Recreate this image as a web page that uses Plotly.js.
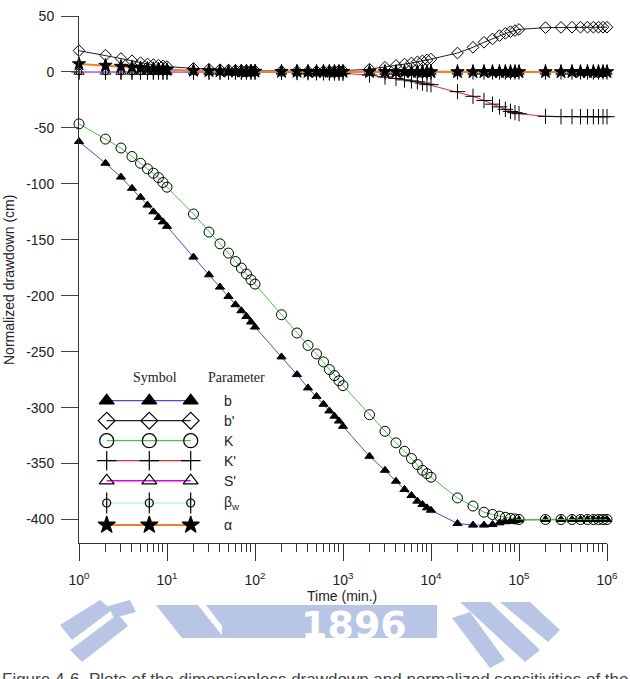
<!DOCTYPE html>
<html>
<head>
<meta charset="utf-8">
<script src="https://cdn.plot.ly/plotly-3.0.1.min.js"></script>
<style>
html,body{margin:0;padding:0;background:#fff;}
#chart{width:630px;height:679px;}
</style>
</head>
<body>
<div id="chart"></div>
<script>
// ---------- DATA ----------
const timeMin = [
  1,2,3,4,5,6,7,8,9,
  10,20,30,40,50,60,70,80,90,
  100,200,300,400,500,600,700,800,900,
  1000,2000,3000,4000,5000,6000,7000,8000,9000,
  10000,20000,30000,40000,50000,60000,70000,80000,90000,
  100000,200000,300000,400000,500000,600000,700000,800000,900000,
  1000000
];
const sB = [
  -62.2,-81.6,-94,-104,-112,-119,-125,-130,-134,
  -138,-165.5,-181.3,-192.3,-200.6,-208,-213.4,-218.5,-223.5,
  -228,-254.7,-270.5,-282.4,-290,-297,-303,-307.7,-312,
  -316.7,-343.5,-356,-365.8,-373.2,-378.6,-383.6,-386.6,-389.6,
  -391.7,-403.6,-405,-405,-404.5,-403,-402,-401.5,-401,
  -400.5,-400,-400,-400,-400,-400,-400,-400,-400,
  -400
];
const sBp = [
  19,15,12,10,8.3,7.1,6.5,6,5.4,
  4.8,3.2,2.4,2.0,1.7,1.5,1.3,1.2,1.1,
  1.0,0.7,0.6,0.6,0.6,0.7,0.7,0.8,0.9,
  1.1,2.5,4.2,5.8,7,8,9,9.9,10.7,
  11.5,16.9,22,26.5,29.5,32.4,34.5,36,37,
  38,39.6,39.8,40,40,40,40,40,40,
  40
];
const sK = [
  -46.4,-60,-68,-75.6,-81.6,-86.6,-90.5,-94.4,-98.8,
  -103,-127,-143.1,-153.6,-161.9,-169.4,-175.3,-180.6,-185.7,
  -189.6,-217,-233.3,-244.4,-252,-259.2,-266,-271.4,-276,
  -280.4,-306.3,-321.2,-331.5,-339,-345.5,-350.9,-356,-359,
  -362.2,-380.7,-388,-393.5,-395.5,-397,-398,-399,-399.5,
  -400,-400,-400,-400,-400,-400,-400,-400,-400,
  -400
];
const sKp = [
  0,0,0,0,0,0,0,0,0,
  0,0,0,0,0,0,0,0,0,
  -0.1,-0.3,-0.5,-0.6,-0.7,-0.8,-0.9,-1.0,-1.1,
  -1.3,-2.8,-4.5,-5.8,-7.1,-8,-8.8,-10,-11,
  -11.4,-17.6,-21.8,-25.5,-28.8,-31.2,-33.4,-35.3,-36.4,
  -37.3,-39.7,-40,-40,-40,-40,-40,-40,-40,
  -40
];
const sSp = [
  0,0,0,0,0,0,0,0,0,
  0,0,0,0,0,0,0,0,0,
  0,0,0,0,0,0,0,0,0,
  0,0,0,0,0,0,0,0,0,
  0,0,0,0,0,0,0,0,0,
  0,0,0,0,0,0,0,0,0,
  0
];
const sBw = [
  0,0,0,0,0,0,0,0,0,
  0,0,0,0,0,0,0,0,0,
  0,0,0,0,0,0,0,0,0,
  0,0,0,0,0,0,0,0,0,
  0,0,0,0,0,0,0,0,0,
  0,0,0,0,0,0,0,0,0,
  0
];
const sAlpha = [
  7.1,5.8,4.9,4.2,3.6,3.1,2.8,2.5,2.2,
  2.0,1.2,0.9,0.7,0.6,0.5,0.5,0.4,0.4,
  0.4,0.3,0.3,0.2,0.2,0.2,0.2,0.2,0.2,
  0.2,0.1,0.1,0.1,0.1,0.1,0.1,0.1,0.1,
  0,0,0,0,0,0,0,0,0,
  0,0,0,0,0,0,0,0,0,
  0
];
const xTickVals = [1,10,100,1000,10000,100000,1000000];
const xTickText = ['10<sup>0</sup>','10<sup>1</sup>','10<sup>2</sup>','10<sup>3</sup>','10<sup>4</sup>','10<sup>5</sup>','10<sup>6</sup>'];
const yTickVals = [50,0,-50,-100,-150,-200,-250,-300,-350,-400];
const yTickText = ['50','0','-50','-100','-150','-200','-250','-300','-350','-400'];
const paramNames = ['b',"b'",'K',"K'","S'",'β<sub>w</sub>','α'];

// ---------- STYLE ----------
const W = 630, H = 679;
const M = {l:79, r:23, t:16, b:136};
const PW = W - M.l - M.r, PH = H - M.t - M.b;
const px = x => (x - M.l) / PW;
const py = y => (H - M.b - y) / PH;

const series = [
  {y: sB,    color:'#4b4bd0', width:1, sym:'triangle-up', size:8,  lsize:13},
  {y: sBp,   color:'#222222', width:1, sym:'diamond-open', size:9, lsize:13},
  {y: sK,    color:'#3ccc3c', width:1, sym:'circle-open', size:10, lsize:14},
  {y: sKp,   color:'#e03030', width:1, sym:'cross-thin-open', size:11, lsize:14},
  {y: sSp,   color:'#e000e0', width:1.5, sym:'triangle-up-open', size:9, lsize:13},
  {y: sBw,   color:'#9ee8ee', width:1, sym:'circle-open', size:6, lsize:8, stem:true},
  {y: sAlpha,color:'#f08028', width:2, sym:'star', size:10, lsize:13}
];

const traces = [];
series.forEach(s => {
  traces.push({
    x: timeMin, y: s.y, type:'scatter', mode:'lines+markers', cliponaxis:false,
    line:{color:s.color, width:s.width},
    marker:{symbol:s.sym, size:s.size, color:'#000', line:{color:'#000', width:1}},
    hoverinfo:'skip'
  });
  if (s.stem) {
    traces.push({
      x: timeMin, y: s.y, type:'scatter', mode:'markers', cliponaxis:false,
      marker:{symbol:'line-ns-open', size:11, color:'#000', line:{color:'#000', width:1}},
      hoverinfo:'skip'
    });
  }
});

// custom legend (helper axes spanning the plot area, 0..1)
const legX = [px(106.7), px(149.3), px(190.7)];
const legRowY = [400.7, 420.7, 440.7, 460.7, 480.7, 503, 525];
series.forEach((s, i) => {
  const yy = py(legRowY[i]);
  traces.push({
    x: legX, y: [yy, yy, yy], xaxis:'x2', yaxis:'y2', type:'scatter', mode:'lines+markers', cliponaxis:false,
    line:{color:s.color, width:s.width === 1 ? 1.2 : s.width},
    marker:{symbol:s.sym, size:s.lsize, color:'#000', line:{color:'#000', width:1.2}},
    hoverinfo:'skip'
  });
  if (s.stem) {
    traces.push({
      x: legX, y: [yy, yy, yy], xaxis:'x2', yaxis:'y2', type:'scatter', mode:'markers', cliponaxis:false,
      marker:{symbol:'line-ns-open', size:15, color:'#000', line:{color:'#000', width:1.2}},
      hoverinfo:'skip'
    });
  }
});

const minorVals = [];
for (let d = 0; d < 6; d++) for (let m = 2; m <= 9; m++) minorVals.push(m * Math.pow(10, d));

const annotations = [];
annotations.push({xref:'paper', yref:'paper', x:px(155), y:py(377), text:'Symbol', showarrow:false,
  font:{family:'Liberation Serif, Times New Roman, serif', size:14, color:'#222'}, xanchor:'center', yanchor:'middle'});
annotations.push({xref:'paper', yref:'paper', x:px(236), y:py(377), text:'Parameter', showarrow:false,
  font:{family:'Liberation Serif, Times New Roman, serif', size:14, color:'#222'}, xanchor:'center', yanchor:'middle'});
paramNames.forEach((n, i) => {
  annotations.push({xref:'paper', yref:'paper', x:px(222), y:py(legRowY[i]), text:n, showarrow:false,
    font:{family:'Liberation Sans, Arial, sans-serif', size:14, color:'#222'}, xanchor:'left', yanchor:'middle'});
});
// axis titles
annotations.push({xref:'paper', yref:'paper', x:px(342), y:py(596), text:'Time (min.)', showarrow:false,
  font:{family:'Liberation Sans, Arial, sans-serif', size:14, color:'#222'}, xanchor:'center', yanchor:'middle'});
annotations.push({xref:'paper', yref:'paper', x:px(9), y:py(280), text:'Normalized drawdown (cm)', showarrow:false, textangle:-90,
  font:{family:'Liberation Sans, Arial, sans-serif', size:14, color:'#222'}, xanchor:'center', yanchor:'middle'});
// watermark "1896"
annotations.push({xref:'paper', yref:'paper', x:px(354), y:py(625), text:'<b>1896</b>', showarrow:false,
  font:{family:'DejaVu Sans, sans-serif', size:38, color:'#ffffff'}, xanchor:'center', yanchor:'middle'});
// caption (cut off at the bottom edge)
annotations.push({xref:'paper', yref:'paper', x:px(315), y:py(668), text:'Figure 4-6  Plots of the dimensionless drawdown and normalized sensitivities of the', showarrow:false,
  font:{family:'Liberation Sans, Arial, sans-serif', size:17, color:'#444'}, xanchor:'center', yanchor:'top'});

function pathPx(pts){ return 'M' + pts.map(p => px(p[0]) + ',' + py(p[1])).join(' L') + ' Z'; }
const wm = '#b8c5e4';
const shapes = [
  {type:'path', xref:'paper', yref:'paper', path: pathPx([[222,605],[437,605],[437,638],[222,638]]), fillcolor:wm, line:{width:0}, layer:'below'},
  {type:'path', xref:'paper', yref:'paper', path: pathPx([[156,605],[198,605],[224,638],[182,638]]), fillcolor:wm, line:{width:0}, layer:'below'},
  {type:'path', xref:'paper', yref:'paper', path: pathPx([[206,605],[222,605],[222,638],[231,638]]), fillcolor:wm, line:{width:0}, layer:'below'},
  {type:'path', xref:'paper', yref:'paper', path: pathPx([[60,625],[100,600],[112,610],[72,640]]), fillcolor:wm, line:{width:0}, layer:'below'},
  {type:'path', xref:'paper', yref:'paper', path: pathPx([[70,650],[118,614],[128,626],[82,662]]), fillcolor:wm, line:{width:0}, layer:'below'},
  {type:'path', xref:'paper', yref:'paper', path: pathPx([[108,606],[130,600],[136,612],[114,618]]), fillcolor:wm, line:{width:0}, layer:'below'},
  {type:'path', xref:'paper', yref:'paper', path: pathPx([[460,602],[490,602],[540,650],[525,662]]), fillcolor:wm, line:{width:0}, layer:'below'},
  {type:'path', xref:'paper', yref:'paper', path: pathPx([[500,602],[530,602],[560,630],[548,642]]), fillcolor:wm, line:{width:0}, layer:'below'},
  {type:'path', xref:'paper', yref:'paper', path: pathPx([[452,618],[470,612],[505,660],[490,668]]), fillcolor:wm, line:{width:0}, layer:'below'}
];

const axisFont = {family:'Liberation Sans, Arial, sans-serif', size:14, color:'#222'};
const layout = {
  width: W, height: H,
  margin: {l:M.l, r:M.r, t:M.t, b:M.b, pad:0},
  paper_bgcolor:'#fff', plot_bgcolor:'#fff',
  showlegend:false,
  xaxis: {
    type:'log', range:[0,6], showgrid:false, zeroline:false,
    showline:true, linecolor:'#333', linewidth:1,
    ticks:'outside', ticklen:17, tickwidth:1, tickcolor:'#333',
    ticklabelstandoff:7,
    tickmode:'array', tickvals:xTickVals, ticktext:xTickText, tickfont:axisFont,
    minor:{ticks:'outside', ticklen:8, tickwidth:1, tickcolor:'#333', tickmode:'array', tickvals:minorVals, showgrid:false}
  },
  yaxis: {
    range:[-421, 50], showgrid:false, zeroline:false,
    showline:true, linecolor:'#333', linewidth:1,
    ticks:'outside', ticklen:17, tickwidth:1, tickcolor:'#444',
    ticklabelstandoff:4,
    tickmode:'array', tickvals:yTickVals, ticktext:yTickText, tickfont:axisFont
  },
  xaxis2: {domain:[0,1], range:[0,1], overlaying:'x', anchor:'y2', visible:false, fixedrange:true},
  yaxis2: {domain:[0,1], range:[0,1], overlaying:'y', anchor:'x2', visible:false, fixedrange:true},
  annotations: annotations,
  shapes: shapes
};

Plotly.newPlot('chart', traces, layout, {staticPlot:true, displayModeBar:false});
</script>
</body>
</html>
